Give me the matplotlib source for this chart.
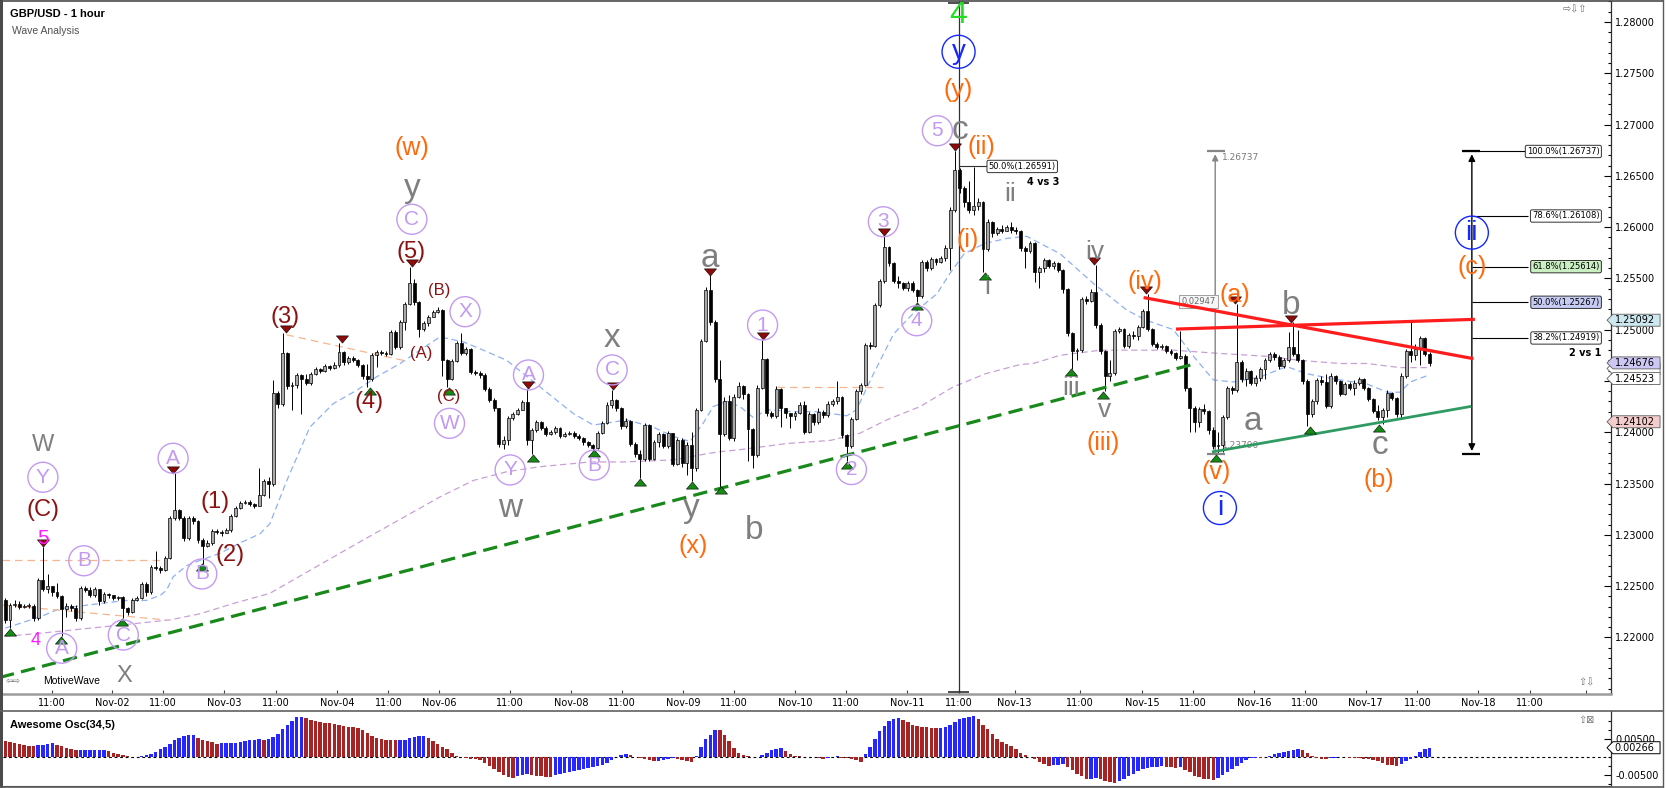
import numpy as np
import matplotlib
matplotlib.use("Agg")
import matplotlib.pyplot as plt
from matplotlib import transforms
from matplotlib.patches import Polygon, Rectangle
from matplotlib.lines import Line2D
from matplotlib.ticker import FixedLocator, MultipleLocator

W, H = 1668, 788

# prices are pips above 1.20000, one hourly candle per value
first_open = 236
closes = [
    217, 232, 233, 230, 231, 231, 219, 256, 247, 250,
    244, 240, 228, 231, 229, 219, 248, 246, 241, 247,
    235, 242, 241, 238, 239, 229, 225, 236, 238, 252,
    244, 269, 268, 266, 277, 316, 324, 316, 297, 316,
    313, 295, 289, 292, 304, 303, 302, 305, 318, 326,
    331, 332, 330, 328, 339, 352, 350, 438, 428, 477,
    445, 446, 456, 452, 448, 457, 462, 460, 465, 463,
    466, 478, 468, 472, 470, 466, 455, 452, 475, 478,
    477, 476, 498, 483, 507, 525, 545, 527, 501, 506,
    512, 517, 519, 470, 452, 469, 487, 477, 481, 459,
    458, 456, 442, 431, 424, 389, 392, 414, 418, 422,
    429, 392, 402, 410, 404, 398, 400, 404, 396, 398,
    399, 396, 394, 390, 388, 385, 399, 409, 427, 431,
    424, 406, 411, 389, 379, 374, 407, 374, 390, 398,
    387, 399, 369, 392, 370, 388, 365, 422, 489, 539,
    507, 452, 398, 430, 394, 434, 445, 437, 403, 378,
    443, 471, 419, 416, 442, 424, 419, 416, 419, 427,
    400, 418, 410, 420, 417, 428, 430, 434, 397, 387,
    413, 440, 446, 485, 484, 524, 547, 581, 565, 547,
    545, 541, 545, 539, 533, 566, 560, 569, 566, 570,
    580, 617, 656, 638, 624, 617, 621, 624, 579, 605,
    594, 598, 596, 600, 597, 596, 580, 577, 584, 556,
    560, 568, 562, 565, 558, 540, 497, 479, 480, 530,
    528, 537, 505, 479, 455, 458, 499, 501, 484, 495,
    494, 503, 518, 501, 486, 483, 484, 479, 477, 472,
    474, 443, 424, 410, 423, 421, 402, 387, 388, 415,
    443, 441, 468, 452, 460, 448, 453, 462, 470, 476,
    473, 465, 470, 483, 476, 470, 450, 418, 430, 451,
    449, 426, 455, 450, 437, 447, 443, 448, 452, 443,
    432, 421, 415, 422, 438, 433, 418, 455, 479, 475,
    481, 492, 476, 467.6]
highs = [
    238, 234, 236, 235, 233, 234, 233, 258, 288, 262,
    248, 253, 241, 234, 233, 232, 250, 250, 249, 249,
    245, 244, 243, 241, 240, 240, 230, 238, 240, 254,
    254, 271, 284, 270, 279, 318, 360, 325, 318, 318,
    318, 314, 297, 295, 306, 306, 305, 307, 320, 328,
    333, 334, 334, 331, 365, 354, 356, 451, 440, 497,
    478, 449, 458, 457, 457, 459, 464, 463, 467, 466,
    468, 487, 479, 474, 474, 471, 467, 467, 477, 480,
    480, 479, 500, 500, 509, 527, 561, 549, 528, 508,
    514, 519, 522, 520, 471, 471, 489, 497, 483, 482,
    461, 460, 458, 444, 433, 424, 396, 416, 420, 424,
    431, 442, 404, 412, 411, 406, 402, 406, 405, 400,
    401, 401, 398, 395, 391, 389, 401, 411, 429, 441,
    432, 425, 414, 412, 390, 383, 409, 408, 392, 400,
    399, 401, 399, 394, 394, 390, 400, 424, 491, 542,
    553, 509, 470, 434, 436, 437, 449, 446, 438, 404,
    446, 490, 472, 421, 445, 443, 424, 418, 421, 429,
    430, 420, 419, 424, 422, 430, 432, 450, 435, 398,
    415, 442, 448, 487, 488, 526, 549, 592, 582, 566,
    552, 546, 547, 547, 540, 568, 568, 571, 570, 572,
    583, 620, 674, 658, 640, 645, 659, 628, 625, 608,
    606, 600, 602, 602, 605, 600, 597, 582, 586, 585,
    562, 570, 569, 567, 566, 559, 541, 498, 482, 532,
    533, 540, 563, 506, 480, 470, 501, 503, 502, 497,
    499, 505, 520, 535, 502, 488, 486, 485, 481, 478,
    499, 476, 444, 426, 425, 428, 422, 405, 400, 417,
    445, 445, 525, 470, 463, 461, 456, 464, 472, 478,
    478, 475, 472, 498, 507, 500, 471, 452, 432, 453,
    455, 457, 458, 456, 451, 449, 449, 451, 454, 453,
    444, 433, 427, 424, 441, 439, 434, 458, 481, 509,
    486, 494, 493, 478]
lows = [
    214, 209, 230, 228, 229, 229, 216, 217, 245, 243,
    240, 238, 201, 220, 226, 216, 217, 244, 239, 239,
    232, 234, 238, 236, 236, 219, 222, 224, 235, 237,
    240, 242, 266, 263, 265, 276, 314, 314, 294, 295,
    311, 292, 272, 288, 290, 301, 299, 302, 303, 317,
    325, 330, 328, 326, 328, 338, 336, 348, 424, 426,
    442, 422, 443, 418, 446, 446, 456, 458, 459, 461,
    462, 464, 466, 467, 468, 464, 452, 444, 450, 464,
    475, 474, 475, 481, 481, 500, 524, 524, 493, 499,
    504, 512, 516, 455, 444, 451, 468, 475, 475, 457,
    456, 453, 440, 429, 421, 386, 384, 388, 412, 417,
    422, 388, 379, 400, 402, 396, 397, 398, 394, 395,
    397, 394, 392, 388, 386, 383, 384, 398, 408, 424,
    421, 403, 404, 387, 376, 355, 372, 372, 373, 386,
    385, 385, 367, 368, 366, 358, 352, 362, 421, 488,
    505, 449, 347, 396, 392, 391, 433, 432, 372, 365,
    376, 442, 416, 414, 414, 405, 414, 404, 412, 418,
    398, 399, 407, 408, 414, 415, 426, 428, 394, 372,
    385, 412, 437, 445, 481, 483, 522, 545, 562, 545,
    541, 539, 538, 537, 527, 531, 557, 558, 563, 565,
    567, 558, 615, 633, 620, 614, 612, 617, 556, 577,
    590, 592, 594, 596, 594, 593, 577, 560, 575, 546,
    541, 556, 560, 559, 556, 536, 494, 462, 470, 478,
    525, 527, 502, 476, 440, 450, 456, 497, 482, 482,
    491, 490, 502, 499, 484, 481, 481, 477, 475, 470,
    471, 440, 400, 400, 405, 418, 398, 384, 379, 381,
    413, 437, 439, 449, 445, 446, 445, 450, 452, 468,
    470, 462, 463, 468, 474, 468, 447, 406, 415, 428,
    446, 424, 424, 447, 435, 436, 441, 436, 446, 441,
    430, 419, 412, 408, 415, 431, 415, 414, 453, 468,
    470, 466, 474, 465]

# Awesome Oscillator (34,5), units of 0.0001
ao = [
    46, 43, 39, 37, 34, 32, 31, 33, 35, 37,
    39, 33, 31, 26, 22, 19, 19.5, 20, 20.3, 20.5,
    21, 21.5, 17, 13, 9, 6, 4, 2, 1.5, 3,
    6, 10, 16, 22, 29, 37, 47, 55, 60, 62,
    63, 55, 49, 45, 42, 38, 38.5, 39, 40, 41,
    43, 45, 47, 48, 49.5, 49, 50, 57, 66, 78,
    90, 101, 111, 113, 109, 104, 101, 98, 96, 94,
    92, 89, 87, 85, 83, 80, 75, 67, 60, 53,
    50, 49, 48, 47.5, 48, 49, 54, 57, 58, 58.5,
    53, 45, 38, 30, 22, 12, 5, 1, -2, -4,
    -6, -8, -15, -24, -33, -42, -50, -55, -57, -52,
    -49, -47, -49, -51, -53, -54, -55, -50, -46, -43,
    -40, -37, -35, -33, -30, -27, -24, -21, -17, -8,
    2, 7, 8, 6, 2, -2, -5, -8, -11, -9,
    -7, -4.5, -3, -5, -8, -10, -12, 4, 30, 50,
    62, 76, 75, 63, 44, 26, 13, 7, 3, 1,
    2, 6, 13, 19, 24, 26, 17, 9, 5, 3,
    2, 1, 1.5, -2, -4, -1, 2, 3, -1, -3,
    -5, -7, -12, 10, 30, 52, 72, 86, 100, 106,
    108, 104, 99, 91, 86, 84, 83, 82, 81, 82,
    83, 90, 99, 106, 110, 112, 114, 106, 90, 78,
    64, 50, 43, 37, 31, 22, 13, 6, 2, -6,
    -14, -18, -24, -22, -21, -19, -26, -36, -45, -53,
    -60, -59, -58, -61, -65, -68, -71, -66, -60, -53,
    -45, -39, -33, -29, -27, -26, -25.5, -27, -28, -28.5,
    -26, -34, -42, -51, -56, -59, -61, -62, -58, -49,
    -41, -33, -25, -16, -8, -2, -1, -3, 2, 5,
    10, 13, 16, 18, 20, 22, 20, 12, 3, -3,
    -5, -5.5, -3, -1, 1.5, -0.5, -1, -1.5, -2.5, -4,
    -6, -8, -10, -15, -20, -22, -23, -19, -11, -4,
    5, 15, 24, 26.6]

tick_pos = [9.9, 22.8, 33.6, 46.6, 57.6, 70.6, 81.5, 92.3, 107.4, 120.4, 131.2,
            144.2, 155, 168, 178.9, 191.9, 202.8, 214.7, 228.7, 241.8, 252.6,
            265.7, 276.5, 289.4, 300.4, 313.4, 324.3, 336.2]
tick_lab = ['11:00', 'Nov-02', '11:00', 'Nov-03', '11:00', 'Nov-04', '11:00',
            'Nov-06', '11:00', 'Nov-08', '11:00', 'Nov-09', '11:00', 'Nov-10',
            '11:00', 'Nov-11', '11:00', 'Nov-13', '11:00', 'Nov-15', '11:00',
            'Nov-16', '11:00', 'Nov-17', '11:00', 'Nov-18', '11:00', '']

# moving averages (bar, pips)
blue_ma_x = [0, 7.4, 11.6, 20.1, 25.8, 30, 33, 34.3, 35.7, 38.6, 41.4, 45.7, 49.9,
             54.2, 56.3, 59.9, 64.8, 69.8, 74.8, 79, 84, 88.2, 92.5, 97.5, 101.7,
             106.7, 113.8, 120.9, 125.1, 128, 132.2, 137.8, 142.1, 145.7, 148.5,
             150.6, 153.5, 156.3, 159.2, 162, 167.6, 173.3, 179, 181.1, 184.7, 189,
             193.2, 198.2, 201, 204, 208.3, 213.1, 217.3, 224.4, 231.5, 238.6,
             242.8, 248.5, 252.8, 257, 261.3, 267, 272.6, 276.9, 282.5, 289.7, 294,
             296.7, 298.9, 302.4]
blue_ma_y = [209, 220, 228, 233, 236, 236, 241, 246, 259, 270, 275, 282, 292,
             301, 311, 353, 405, 428, 441, 454, 467, 480, 493, 488, 480,
             470, 444, 418, 407, 409, 412, 405, 396, 391, 409,
             425, 430, 425, 414, 422, 420, 420, 416, 422, 457, 496,
             516, 535, 555, 574, 584, 589, 591, 574, 545, 519,
             509, 500, 474, 451, 449, 454, 464, 457, 452, 447, 439,
             439, 449, 455]
pink_ma_x = [0, 7.4, 20.2, 28.7, 35, 41.4, 48.5, 56.3, 75, 92.5, 99.6, 106.7,
             113.8, 124.4, 131.5, 142.1, 149.2, 152, 156.3, 166.3, 175.5, 181.8,
             187.5, 194.6, 201.6, 208.5, 215.9, 218.7, 224.4, 233, 241.4, 248.5,
             257.7, 268.4, 275.5, 284, 289.7, 296.7, 302.4]
pink_ma_y = [201, 204, 210, 214, 217, 223, 233, 243, 292, 337, 353, 361.5,
             366.4, 371, 371, 373, 379, 381, 383, 389, 392, 399,
             412, 425, 444, 457, 466, 467, 475, 480, 480, 480,
             477, 474, 470, 467, 467, 463, 463]

# drawn trend lines (bar, pips)
green_dash_x, green_dash_y = [-1.13, 252.1], [161, 465.5]
green_line_x, green_line_y = [257, 311.6], [381, 425]
red_fall_x, red_fall_y = [242.5, 312], [531, 472]
red_flat_x, red_flat_y = [249.4, 312.3], [500.6, 510]
orange_lines = [([-0.6, 33.6], [275, 275]), ([-0.5, 34.3], [231.5, 217]),
                ([59.8, 84.7], [495, 470]), ([164.1, 186.8], [444, 444])]

red_tri_x = [8, 35.6, 59.7, 71.6, 86.5, 111.3, 129.2, 150, 161.1, 187, 202, 231.7,
             242.6, 261.7, 273.6]
red_tri_y = [288, 360, 497, 487, 561, 442, 441, 553, 490, 592, 674, 563, 535, 525, 507]
green_tri_x = [1, 11.8, 24.8, 41.8, 77.6, 94.3, 112.3, 125.3, 135, 146, 152.3, 179,
               193.9, 208.5, 226.7, 233.6, 257.6, 277.5, 292.3]
green_tri_y = [209, 201, 219, 272, 444, 444, 379, 383, 355, 352, 347, 372, 527, 556,
               462, 440, 379, 406, 408]

fib_levels = [1.26737, 1.26108, 1.25614, 1.25267, 1.24919]
fib_names = ['100.0%', '78.6%', '61.8%', '50.0%', '38.2%']
fib_fills = ['white', 'white', '#c9efc2', '#c5cbf3', 'white']
wave_top, wave_low = 1.26737, 1.23790

hidden_tag = 1.24621
tag_vals = [1.24523, 1.24676, 1.25092, 1.24102]
tag_fills = ['white', '#cdc7f4', '#cde8f1', '#f5cccc']
ao_tag = 0.00266

styles = {
    'gl': ('#7f7f7f', 24, 0), 'gu': ('#7f7f7f', 17, 0), 'gr': ('#7f7f7f', 19, 0),
    'or': ('#ff6a0d', 18, 0), 'dr': ('#8c1212', 17, 0), 'ds': ('#8c1212', 12, 0),
    'pu': ('#c29af2', 15, 30), 'mg': ('#ff1aff', 15, 0), 'm2': ('#ff1aff', 13, 0),
    'bl': ('#1428ff', 20, 33), 'gn': ('#22dd22', 23, 0),
}
labels = [
    ('W', 8.1, 387.5, 'gu'), ('X', 25.3, 162.8, 'gu'),
    ('w', 107.4, 325.8, 'gl'), ('x', 129, 491.6, 'gl'), ('y', 86.5, 637.8, 'gl'),
    ('a', 149.9, 569.5, 'gl'), ('y', 146, 325.8, 'gl'), ('b', 159.4, 304.4, 'gl'),
    ('c', 203, 694.6, 'gl'), ('b', 273.5, 524, 'gl'), ('a', 265.5, 410.3, 'gl'),
    ('c', 292.5, 387, 'gl'),
    ('i', 208.8, 541.9, 'gr'), ('ii', 213.8, 632.7, 'gr'), ('iii', 226.7, 442.8, 'gr'),
    ('iv', 231.7, 576, 'gr'), ('v', 233.8, 421.7, 'gr'),
    ('(w)', 86.5, 676.8, 'or'), ('(x)', 146.4, 288.8, 'or'), ('(y)', 202.8, 733.6, 'or'),
    ('(i)', 204.7, 587.4, 'or'), ('(ii)', 207.7, 678.3, 'or'), ('(iii)', 233.6, 389.2, 'or'),
    ('(iv)', 242.5, 546.7, 'or'), ('(v)', 257.6, 361.5, 'or'), ('(a)', 261.6, 533.8, 'or'),
    ('(b)', 292.3, 353.4, 'or'), ('(c)', 312, 561.3, 'or'),
    ('(C)', 8.0, 324.2, 'dr'), ('(1)', 44.6, 332.4, 'dr'), ('(2)', 47.8, 280.3, 'dr'),
    ('(3)', 59.5, 512.6, 'dr'), ('(4)', 77.4, 429.8, 'dr'), ('(5)', 86.3, 576, 'dr'),
    ('(B)', 92.3, 538, 'ds'), ('(A)', 88.4, 477, 'ds'), ('(C)', 94.3, 434.6, 'ds'),
    ('Y', 8.0, 356.1, 'pu'), ('B', 16.7, 274.7, 'pu'), ('A', 12, 189.4, 'pu'),
    ('C', 25.1, 202.3, 'pu'), ('A', 35.7, 374.6, 'pu'), ('B', 41.8, 261.8, 'pu'),
    ('C', 86.5, 607.6, 'pu'), ('X', 97.8, 517.5, 'pu'), ('W', 94.5, 408.7, 'pu'),
    ('A', 111.3, 455.8, 'pu'), ('Y', 107.4, 363.2, 'pu'), ('C', 129.1, 460.7, 'pu'),
    ('B', 125.3, 368, 'pu'), ('1', 161.1, 504.5, 'pu'), ('2', 180, 363.6, 'pu'),
    ('3', 186.8, 605.2, 'pu'), ('4', 193.9, 508.7, 'pu'), ('5', 198.3, 693.9, 'pu'),
    ('5', 8.0, 296.6, 'mg'), ('4', 6.5, 197.4, 'm2'),
    ('y', 202.8, 770.9, 'bl'), ('i', 258.4, 326.1, 'bl'), ('ii', 312, 594.6, 'bl'),
    ('4', 202.8, 806.7, 'gn'),
]


def P(p):
    return 1.2 + np.asarray(p, dtype=float) / 1e4


def frac(l, t, r, b):
    return [l / W, 1 - b / H, (r - l) / W, (b - t) / H]


def tag_shape(v, hh):
    return [(0.9975, v), (1.0012, v + hh), (1.0305, v + hh), (1.0305, v - hh),
            (1.0012, v - hh)]


fig = plt.figure(figsize=(W / 100, H / 100), dpi=100)
fig.patch.set_facecolor('white')
ax = fig.add_axes(frac(2.7, 1, 1611, 694))
ax2 = fig.add_axes(frac(2.7, 711, 1611, 786))
for a in (ax, ax2):
    a.set_xlim(-0.553, 341.6)
    for s in ('top', 'left'):
        a.spines[s].set_visible(False)
    a.spines['right'].set_color('#303030')
    a.spines['right'].set_linewidth(0.9)
ax.set_ylim(P(144.8), P(820.4))
ax2.set_ylim(-0.00797, 0.01286)
ax.spines['bottom'].set_color('#9c9c9c')
ax.spines['bottom'].set_linewidth(1.8)
ax2.spines['bottom'].set_color('#505050')

# candles
x = np.arange(len(closes))
c = np.array(closes, dtype=float)
o = np.r_[first_open, c[:-1]]
hi = np.maximum(np.array(highs, dtype=float), np.maximum(o, c))
lo = np.minimum(np.array(lows, dtype=float), np.minimum(o, c))
up = c >= o
ax.vlines(x, P(lo), P(hi), colors='black', lw=0.7, zorder=3)
ax.bar(x, np.maximum(np.abs(c - o), 0.6) / 1e4, bottom=P(np.minimum(o, c)), width=0.62,
       color=np.where(up, '#a9a9a9', '#000000'), edgecolor='black', linewidth=0.5, zorder=4)

# moving averages and trend lines
ax.plot(blue_ma_x, P(blue_ma_y), color='#8fb1f2', lw=0.9, ls=(0, (5, 3)), zorder=2)
ax.plot(pink_ma_x, P(pink_ma_y), color='#c9a0d6', lw=0.9, ls=(0, (5, 3)), zorder=2)
for ox, oy in orange_lines:
    ax.plot(ox, P(oy), color='#f6b58e', lw=0.9, ls=(0, (6, 4)), zorder=2)
ax.plot(green_dash_x, P(green_dash_y), color='#18891a', lw=2.3, ls=(0, (4.5, 2.3)), zorder=5)
ax.plot(green_line_x, P(green_line_y), color='#2f9b62', lw=2.0, zorder=5)
ax.plot(red_fall_x, P(red_fall_y), color='#ff1c1c', lw=2.3, zorder=5)
ax.plot(red_flat_x, P(red_flat_y), color='#ff1c1c', lw=2.3, zorder=5)

# pivot markers
tri = [(-1, 0.6), (1, 0.6), (0, -0.6), (-1, 0.6)]
up_off = transforms.offset_copy(ax.transData, fig=fig, x=0, y=2.7, units='points')
dn_off = transforms.offset_copy(ax.transData, fig=fig, x=0, y=-2.7, units='points')
ax.scatter(red_tri_x, P(red_tri_y), marker=tri, s=75, color='#8e0b0b', edgecolor='black',
           linewidths=0.4, transform=up_off, zorder=6)
ax.scatter(green_tri_x, P(green_tri_y), marker=[(px, -py) for px, py in tri], s=75,
           color='#168a16', edgecolor='black', linewidths=0.4, transform=dn_off, zorder=6)

# vertical marker line at the top
ax.axvline(202.8, color='#303030', lw=0.9, zorder=2)
ax.hlines([P(818), P(147)], 200.5, 205.1, color='#303030', lw=1.2, zorder=2)

# measured wave (left, grey)
ax.annotate('', xy=(257.4, wave_top), xytext=(257.4, wave_low),
            arrowprops=dict(arrowstyle='-|>', color='#858585', lw=1.0, mutation_scale=9), zorder=3)
ax.hlines([wave_top, wave_low], 255.6, 259.5, color='#858585', lw=1.6, zorder=3)
ax.text(258.8, P(667.5), '1.26737', fontsize=6.5, color='#7a7a7a', va='center', zorder=3)
ax.text(258.8, P(387.5), '1.23790', fontsize=6.5, color='#7a7a7a', va='center', zorder=3)
ax.text(250.2, P(527.2), '0.02947', fontsize=6, color='#6a6a6a', va='center', zorder=3,
        bbox=dict(boxstyle='square,pad=0.25', fc='#f6f6f6', ec='#a0a0a0', lw=0.7))

# 50% retracement box near the top
ax.hlines(P(659.1), 202.8, 209, color='#303030', lw=0.8, zorder=3)
ax.text(209.2, P(659.1), '50.0%(1.26591)', fontsize=6, va='center', zorder=6,
        bbox=dict(boxstyle='round,pad=0.2', fc='white', ec='#303030', lw=0.7))
ax.text(220.8, P(644.2), '4 vs 3', fontsize=7, weight='bold', ha='center', va='center', zorder=6)

# fibonacci projection on the right
ax.annotate('', xy=(312, wave_top), xytext=(312, wave_low),
            arrowprops=dict(arrowstyle='<|-|>', color='black', lw=1.0, mutation_scale=10), zorder=3)
ax.hlines([wave_top, wave_low], 309.9, 313.8, color='black', lw=1.6, zorder=3)
for k, (lv, nm, fc) in enumerate(zip(fib_levels, fib_names, fib_fills)):
    ax.hlines(lv, 309.9 if k == 0 else 312, 324, color='black', lw=0.8, zorder=3)
    ax.text(339.2, lv, f'{nm}({lv:.5f})', fontsize=6, ha='right', va='center', zorder=6,
            bbox=dict(boxstyle='round,pad=0.2', fc=fc, ec='#303030', lw=0.7))
ax.text(336.1, P(477.2), '2 vs 1', fontsize=7, weight='bold', ha='center', va='center', zorder=6)

# wave labels
for txt, lx, ly, st in labels:
    col, fs, circ = styles[st]
    ax.text(lx, P(ly), txt, color=col, fontsize=fs, family='Liberation Sans',
            ha='center', va='center', zorder=7)
    if circ:
        d = circ * 72 / 100
        ax.scatter([lx], [P(ly)], s=d * d, facecolors='none', edgecolors=col,
                   linewidths=1.0, zorder=7)

# axes ticks
ax.set_xticks(tick_pos, tick_lab)
ax.tick_params(axis='x', direction='in', length=3, width=0.8, color='#404040',
               labelsize=7, pad=3)
ax.yaxis.tick_right()
ax.set_yticks(np.arange(1.22, 1.28001, 0.005))
ax.set_yticklabels([f'{v:.5f}' for v in np.arange(1.22, 1.28001, 0.005)])
ax.yaxis.set_minor_locator(MultipleLocator(0.001))
ax.tick_params(axis='y', which='major', direction='in', length=5, width=0.8, labelsize=7, pad=3)
ax.tick_params(axis='y', which='minor', direction='in', length=2.5, width=0.8)

# price tags on the right axis
blend = transforms.blended_transform_factory(ax.transAxes, ax.transData)
hh = 6 / 10258
ax.add_patch(Polygon(tag_shape(hidden_tag, hh), closed=True, fc='white', ec='#606060',
                     lw=0.6, transform=blend, clip_on=False, zorder=10))
for v, fc in zip(tag_vals, tag_fills):
    ax.add_patch(Polygon(tag_shape(v, hh), closed=True, fc=fc, ec='#606060', lw=0.6,
                         transform=blend, clip_on=False, zorder=10))
    ax.text(1.0022, v, f'{v:.5f}', transform=blend, fontsize=7, va='center',
            clip_on=False, zorder=11)

# awesome oscillator
av = np.array(ao, dtype=float) / 1e4
prev = np.r_[av[0] + 1e-4, av[:-1]]
ax2.bar(x, av, width=0.74, color=np.where(av > prev, '#2626ff', '#a82424'), lw=0, zorder=3)
ax2.axhline(0, color='black', lw=0.8, ls=(0, (2.5, 2.5)), zorder=2)
ax2.set_xticks([])
ax2.yaxis.tick_right()
ax2.set_yticks([0.005, -0.005])
ax2.set_yticklabels(['0.00500', '-0.00500'])
ax2.yaxis.set_minor_locator(FixedLocator([0.01, 0.0075, 0.0025, 0, -0.0025, -0.0075]))
ax2.tick_params(axis='y', which='major', direction='in', length=5, width=0.8, labelsize=7, pad=3)
ax2.tick_params(axis='y', which='minor', direction='in', length=2.5, width=0.8)
blend2 = transforms.blended_transform_factory(ax2.transAxes, ax2.transData)
ax2.add_patch(Polygon(tag_shape(ao_tag, 6 / 3600), closed=True, fc='white', ec='black',
                      lw=0.7, transform=blend2, clip_on=False, zorder=10))
ax2.text(1.0022, ao_tag, f'{ao_tag:.5f}', transform=blend2, fontsize=7, va='center',
         clip_on=False, zorder=11)

# captions and frame
fig.text(10 / W, 1 - 14 / H, 'GBP/USD - 1 hour', fontsize=8, weight='bold',
         family='Liberation Sans', va='center')
fig.text(12 / W, 1 - 30.7 / H, 'Wave Analysis', fontsize=7.5, color='#505050',
         family='Liberation Sans', va='center')
fig.text(9.6 / W, 1 - 725 / H, 'Awesome Osc(34,5)', fontsize=8, weight='bold',
         family='Liberation Sans', va='center')
fig.text(6 / W, 1 - 681 / H, '⇦⇨', fontsize=6.5, color='#707070', va='center')
fig.text(43 / W, 1 - 681 / H, 'MotiveWave', fontsize=7.5, family='Liberation Sans', va='center')
fig.text(1563 / W, 1 - 9 / H, '⇨⇩⇧', fontsize=7, color='#707070', va='center')
fig.text(1578 / W, 1 - 682 / H, '⇧⇩', fontsize=7, color='#707070', va='center')
fig.text(1578 / W, 1 - 720 / H, '⇧⊠', fontsize=7, color='#707070', va='center')

fig.add_artist(Rectangle((0, 0), 2.7 / W, 1, transform=fig.transFigure, fc='#4a4a4a', lw=0))
fig.add_artist(Line2D([0, 1663 / W], [1 - 0.5 / H] * 2, transform=fig.transFigure,
                      color='#4a4a4a', lw=1.2))
fig.add_artist(Line2D([1663 / W] * 2, [0, 1], transform=fig.transFigure, color='#5a5a5a', lw=1))
fig.add_artist(Line2D([0, 1663 / W], [1 - 711 / H] * 2, transform=fig.transFigure,
                      color='#606060', lw=1.2))
fig.add_artist(Line2D([0, 1663 / W], [1 - 787 / H] * 2, transform=fig.transFigure,
                      color='#5a5a5a', lw=1.2))

fig.savefig('out.png', dpi=100)
